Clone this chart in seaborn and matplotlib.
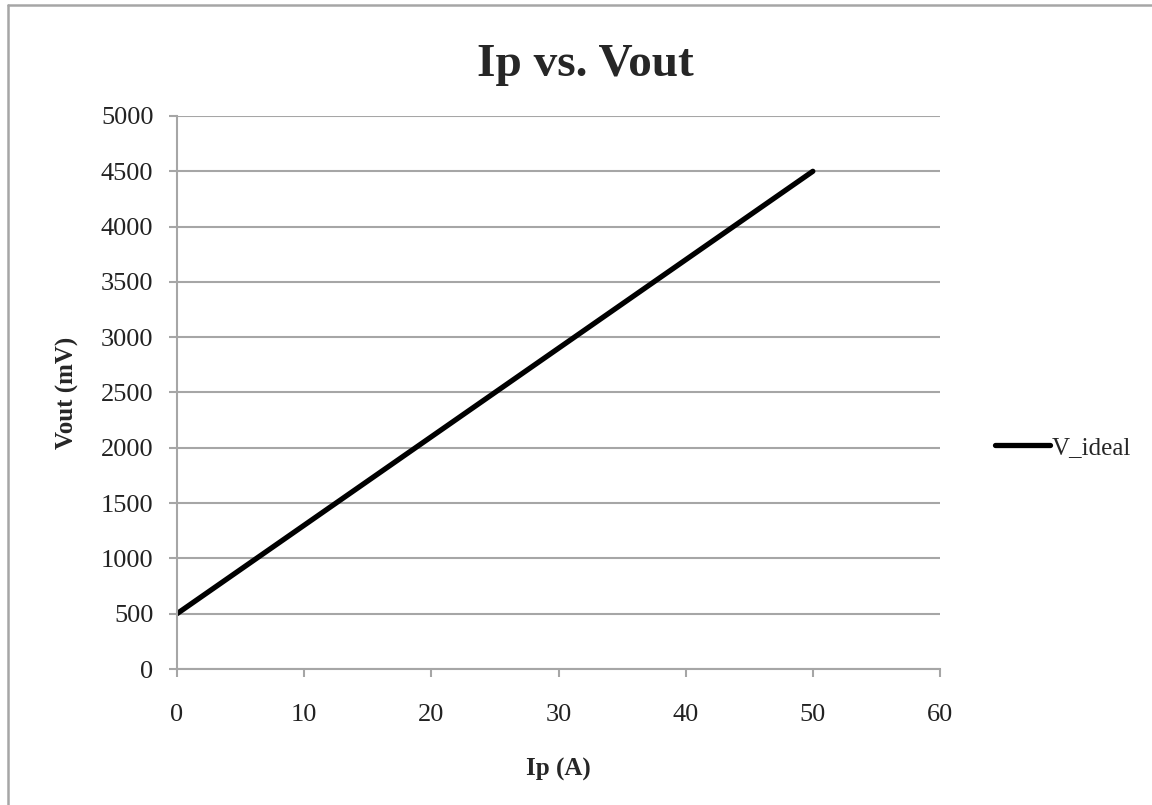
import numpy as np
import pandas as pd
import matplotlib
matplotlib.use("Agg")
import matplotlib.pyplot as plt
import seaborn as sns
from matplotlib.lines import Line2D

# data
ip_amps = [0, 10, 20, 30, 40, 50]
vout_mv = [500, 1300, 2100, 2900, 3700, 4500]
series_name = "V_ideal"
x_ticks = [0, 10, 20, 30, 40, 50, 60]
y_ticks = [0, 500, 1000, 1500, 2000, 2500, 3000, 3500, 4000, 4500, 5000]

df = pd.DataFrame({"Ip": ip_amps, "Vout": vout_mv, "series": series_name})

sns.set_style("white")
plt.rcParams["font.family"] = ["Liberation Serif", "DejaVu Serif"]

grey = "#a6a6a6"
fig = plt.figure(figsize=(11.52, 8.05), dpi=100)
ax = fig.add_axes([177 / 1152, 1 - 669 / 805, (940 - 177) / 1152, (669 - 116) / 805])

sns.lineplot(data=df, x="Ip", y="Vout", hue="series", palette=["black"],
             linewidth=3.8, ax=ax, legend=True)

ax.set_xlim(0, 60)
ax.set_ylim(0, 5000)
ax.set_xticks(x_ticks)
ax.set_yticks(y_ticks)
ax.yaxis.grid(True, color=grey, linewidth=1.5)
ax.set_axisbelow(True)

for s in ["top", "right"]:
    ax.spines[s].set_visible(False)
for s in ["left", "bottom"]:
    ax.spines[s].set_color(grey)
    ax.spines[s].set_linewidth(1.5)

ax.tick_params(axis="both", direction="out", length=6, width=1.5, color=grey,
               labelsize=19, labelcolor="#222222")
ax.tick_params(axis="x", pad=19)
ax.tick_params(axis="y", pad=11)
ax.tick_params(bottom=True, left=True)

ax.set_xlabel("Ip (A)", fontsize=18, fontweight="bold", labelpad=23)
ax.set_ylabel("Vout (mV)", fontsize=18, fontweight="bold", labelpad=16)
# title is centred on the whole chart area, not the plot area
ax.set_title("Ip vs. Vout", fontsize=34, fontweight="bold", pad=29, x=0.535)

leg = ax.legend(loc="center left", bbox_to_anchor=(1.042, 0.40), frameon=False,
                fontsize=18, handlelength=2.2, handletextpad=0.1)

# outer chart border (only left and top edges are visible in the crop)
bx, by = 8 / 1152, 1 - 5 / 805
fig.add_artist(Line2D([bx, bx], [0, by], transform=fig.transFigure, color=grey, lw=1.8))
fig.add_artist(Line2D([bx, 1], [by, by], transform=fig.transFigure, color=grey, lw=1.8))

fig.savefig("out.png", dpi=100)
